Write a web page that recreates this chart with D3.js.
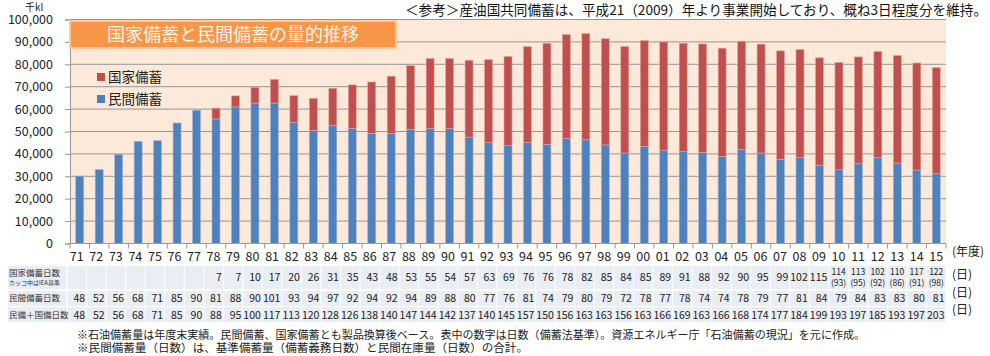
<!DOCTYPE html>
<html><head><meta charset="utf-8">
<script src="https://cdn.jsdelivr.net/npm/d3@7/dist/d3.min.js"></script>
<style>
html,body{margin:0;padding:0;background:#fff;}
svg{display:block;font-family:"Noto Sans CJK JP","Noto Sans",sans-serif;}
</style></head>
<body>
<svg id="chart" width="990" height="356"></svg>
<script>
const years = ["71","72","73","74","75","76","77","78","79","80","81","82","83","84","85","86","87","88","89","90","91","92","93","94","95","96","97","98","99","00","01","02","03","04","05","06","07","08","09","10","11","12","13","14","15"];
// 民間備蓄 (千kl)
const privateStock = [30100,33000,39800,45600,45900,53800,59500,55600,61000,62700,62700,54100,50500,52800,51400,49200,49200,51000,51300,51300,47500,45000,43700,45200,44300,46900,46300,44000,40400,43400,41700,41100,40700,38900,42000,40400,37600,38300,35000,32900,35600,38400,35900,32800,31300];
// 国家備蓄 (千kl)
const nationalStock = [0,0,0,0,0,0,0,4800,4900,7000,10600,11900,14300,16500,19400,22900,25500,28400,31300,31300,34300,37100,39800,42700,45100,46400,47400,47400,47500,47200,48300,48300,48400,48300,48300,48600,48400,48300,47900,47900,47700,47300,48000,47800,47200];
// 表: 国家備蓄日数 / (IEA基準)
const nationalDays = ["","","","","","","","7","7","10","17","20","26","31","35","43","48","53","55","54","57","63","69","76","76","78","82","85","84","85","89","91","88","92","90","95","99","102","115","114","113","102","110","117","122"];
const nationalDaysIEA = ["","","","","","","","","","","","","","","","","","","","","","","","","","","","","","","","","","","","","","","","(93)","(95)","(92)","(86)","(91)","(98)"];
const privateDays = [48,52,56,68,71,85,90,81,88,90,101,93,94,97,92,94,92,94,89,88,80,77,76,81,74,79,80,79,72,78,77,78,74,74,78,79,77,81,84,79,84,83,83,80,81];
const totalDays = [48,52,56,68,71,85,90,88,95,100,117,113,120,128,126,138,140,147,144,142,137,140,145,157,150,156,163,163,156,163,166,169,163,166,168,174,177,184,199,193,197,185,193,197,203];
const yTicks = [0,10000,20000,30000,40000,50000,60000,70000,80000,90000,100000];
const seriesNames = ["国家備蓄","民間備蓄"];
const rowLabels = ["国家備蓄日数","民間備蓄日数","民備＋国備日数"];

const colors = {"民間備蓄":"#4F81BD","国家備蓄":"#C0504D"};
const svg = d3.select("#chart");
const L=70, R=946, T=19.5, B=243.5;

const x = d3.scaleBand().domain(years).range([L,R]).paddingInner(0.59).paddingOuter(0.295);
const xl = d3.scaleBand().domain(years).range([67,946]);
const y = d3.scaleLinear().domain([0,100000]).range([B,T]);

// plot background
svg.append("rect").attr("x",L).attr("y",T).attr("width",R-L).attr("height",B-T).attr("fill","#FDE9D9");

// gridlines
svg.append("g").selectAll("line").data(yTicks.slice(1)).join("line")
  .attr("x1",L).attr("x2",R).attr("y1",d=>y(d)).attr("y2",d=>y(d))
  .attr("stroke","#969696").attr("stroke-width",1);

// y axis
const yAxis = svg.append("g").attr("transform",`translate(${L},0)`)
  .call(d3.axisLeft(y).tickValues(yTicks).tickFormat(d3.format(",")).tickSize(5).tickPadding(12));
yAxis.select(".domain").attr("stroke","#969696");
yAxis.selectAll(".tick line").attr("stroke","#969696");
yAxis.selectAll("text").attr("font-size","12.5px").attr("fill","#222").attr("font-family","'Noto Sans CJK JP'");

// x axis
const step = x.step();
svg.append("line").attr("x1",L).attr("x2",R).attr("y1",B).attr("y2",B).attr("stroke","#969696");
svg.append("g").selectAll("line").data(d3.range(years.length+1)).join("line")
  .attr("x1",i=>L+i*step).attr("x2",i=>L+i*step).attr("y1",B).attr("y2",B+5).attr("stroke","#969696");
svg.append("g").selectAll("text").data(years).join("text")
  .attr("x",d=>xl(d)+xl.bandwidth()/2).attr("y",257).attr("dy","0.35em")
  .attr("text-anchor","middle").attr("font-size","12.5px").attr("fill","#222").text(d=>d);
svg.append("text").attr("x",952).attr("y",252).attr("dy","0.35em").attr("font-size","12px").attr("fill","#222").text("(年度)");

// bars
const gB = svg.append("g");
gB.selectAll("rect.p").data(years).join("rect").attr("class","p")
  .attr("x",d=>x(d)).attr("width",x.bandwidth())
  .attr("y",(d,i)=>y(privateStock[i])).attr("height",(d,i)=>y(0)-y(privateStock[i]))
  .attr("fill",colors["民間備蓄"]).attr("stroke","#9DB5D6").attr("stroke-width",0.6);
gB.selectAll("rect.n").data(years.filter((d,i)=>nationalStock[i]>0)).join("rect").attr("class","n")
  .attr("x",d=>x(d)).attr("width",x.bandwidth())
  .attr("y",d=>{const i=years.indexOf(d);return y(privateStock[i]+nationalStock[i]);})
  .attr("height",d=>{const i=years.indexOf(d);return y(privateStock[i])-y(privateStock[i]+nationalStock[i]);})
  .attr("fill",colors["国家備蓄"]).attr("stroke","#E3A3A0").attr("stroke-width",0.6);

// title box
svg.append("rect").attr("x",70).attr("y",21).attr("width",326).attr("height",27)
  .attr("fill","#F79646").attr("stroke","#FBC9A0").attr("stroke-width",2);
svg.append("text").attr("x",233).attr("y",34.5).attr("dy","0.35em").attr("text-anchor","middle")
  .attr("font-size","18px").attr("fill","#FFF3EA").text("国家備蓄と民間備蓄の量的推移");

// legend
seriesNames.forEach((s,i)=>{
  svg.append("rect").attr("x",97).attr("y",73+i*22).attr("width",8).attr("height",8).attr("fill",colors[s]);
  svg.append("text").attr("x",108).attr("y",77+i*22).attr("dy","0.35em").attr("font-size","13.5px").attr("fill","#222").text(s);
});

// unit
svg.append("text").attr("x",25).attr("y",7.5).attr("dy","0.35em").attr("font-size","10px").attr("fill","#222").text("千kl");

// top note
svg.append("text").attr("x",405).attr("y",10).attr("dy","0.35em").attr("font-size","13.5px").attr("fill","#111")
  .attr("textLength",582).attr("lengthAdjust","spacingAndGlyphs")
  .text("＜参考＞産油国共同備蓄は、平成21（2009）年より事業開始しており、概ね3日程度分を維持。");

// table
const rows = [{y0:266,y1:289},{y0:291,y1:306},{y0:307,y1:322}];
const cellFill = "#E9EDF4";
rows.forEach((r,ri)=>{
  svg.append("rect").attr("x",8).attr("y",r.y0).attr("width",58).attr("height",r.y1-r.y0).attr("fill",cellFill);
  svg.append("g").selectAll("rect").data(years).join("rect")
    .attr("x",d=>xl(d)+0.5).attr("width",xl.bandwidth()-1).attr("y",r.y0).attr("height",r.y1-r.y0).attr("fill",cellFill);
});
svg.append("text").attr("x",9).attr("y",273).attr("dy","0.35em").attr("font-size","8.5px").attr("fill","#333").text(rowLabels[0]);
svg.append("text").attr("x",9).attr("y",283).attr("dy","0.35em").attr("font-size","6px").attr("fill","#333").text("カッコ中はIEA基準");
svg.append("text").attr("x",9).attr("y",298.5).attr("dy","0.35em").attr("font-size","8.5px").attr("fill","#333").text(rowLabels[1]);
svg.append("text").attr("x",9).attr("y",315).attr("dy","0.35em").attr("font-size","8.5px").attr("fill","#333").text(rowLabels[2]);

const gT = svg.append("g").attr("fill","#222");
years.forEach((d,i)=>{
  const right = xl(d)+xl.bandwidth()-1.5, cx = xl(d)+xl.bandwidth()/2;
  if(nationalDaysIEA[i]){
    gT.append("text").attr("x",cx).attr("y",272.5).attr("dy","0.35em").attr("text-anchor","middle").attr("font-size","8.5px").text(nationalDays[i]);
    gT.append("text").attr("x",cx).attr("y",283.5).attr("dy","0.35em").attr("text-anchor","middle").attr("font-size","8.5px").text(nationalDaysIEA[i]);
  } else if(nationalDays[i]){
    gT.append("text").attr("x",right).attr("y",277.5).attr("dy","0.35em").attr("text-anchor","end").attr("font-size","10.5px").text(nationalDays[i]);
  }
  gT.append("text").attr("x",right).attr("y",298.5).attr("dy","0.35em").attr("text-anchor","end").attr("font-size","10.5px").text(privateDays[i]);
  gT.append("text").attr("x",right).attr("y",315).attr("dy","0.35em").attr("text-anchor","end").attr("font-size","10.5px").text(totalDays[i]);
});
[275,292.5,309.5].forEach(yy=>{
  svg.append("text").attr("x",952).attr("y",yy).attr("dy","0.35em").attr("font-size","12px").attr("fill","#222").text("(日)");
});

// footnotes
svg.append("text").attr("x",77).attr("y",335).attr("dy","0.35em").attr("font-size","11px").attr("fill","#222")
  .attr("textLength",788).attr("lengthAdjust","spacingAndGlyphs")
  .text("※石油備蓄量は年度末実績。民間備蓄、国家備蓄とも製品換算後ベース。表中の数字は日数（備蓄法基準）。資源エネルギー庁「石油備蓄の現況」を元に作成。");
svg.append("text").attr("x",77).attr("y",348.5).attr("dy","0.35em").attr("font-size","11px").attr("fill","#222")
  .attr("textLength",451).attr("lengthAdjust","spacingAndGlyphs")
  .text("※民間備蓄量（日数）は、基準備蓄量（備蓄義務日数）と民間在庫量（日数）の合計。");
</script>
</body></html>
